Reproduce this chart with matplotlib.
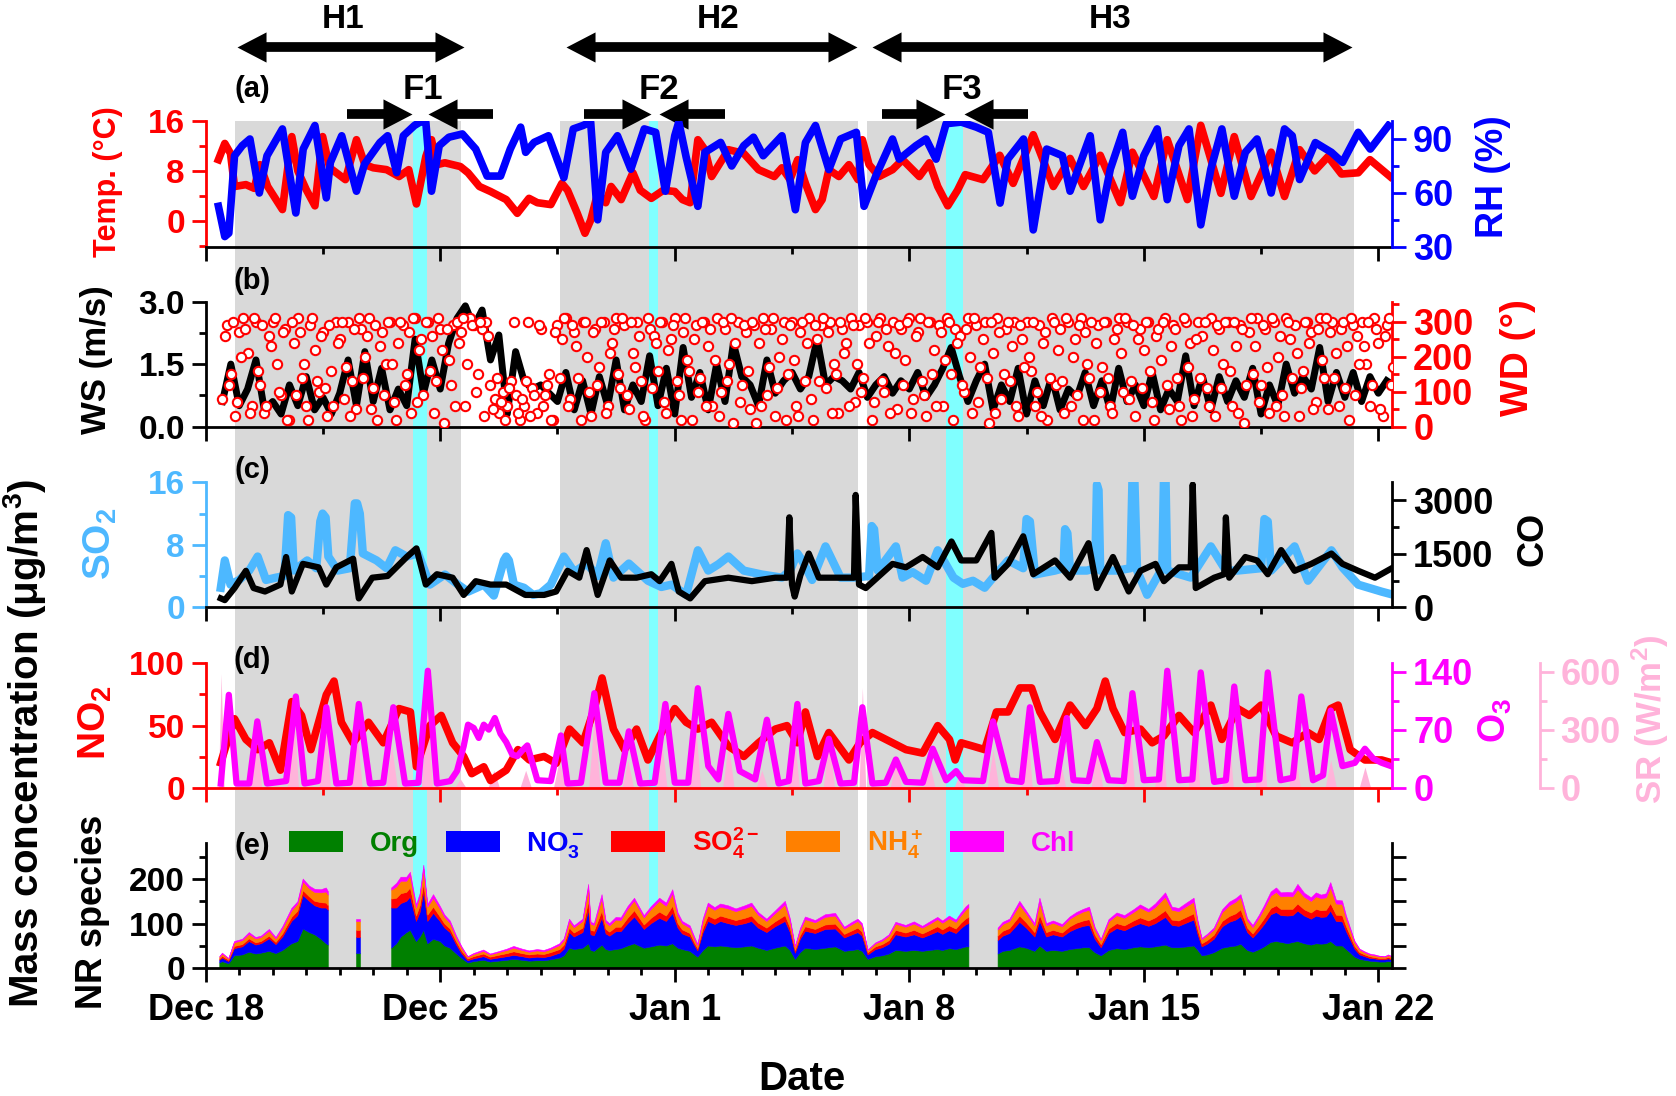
#!/usr/bin/env python3
"""Five-panel time series: meteorology, trace gases and NR species, Dec 18 - Jan 22."""

import numpy as np
import matplotlib
matplotlib.use("Agg")
import matplotlib.pyplot as plt
from matplotlib import transforms
from matplotlib.patches import Patch
from matplotlib.path import Path
from matplotlib.ticker import FormatStrFormatter

NA = np.nan

# x values are days since Dec 18 00:00
DATE_TICKS = [0, 7, 14, 21, 28, 35]
DATE_LABELS = ["Dec 18", "Dec 25", "Jan 1", "Jan 8", "Jan 15", "Jan 22"]

HAZE_SPANS = [(0.86, 7.62), (10.58, 19.47), (19.75, 34.27)]
FOG_SPANS = [(6.20, 6.62), (13.22, 13.51), (22.09, 22.59)]
HAZE_NAMES = ["H1", "H2", "H3"]
HAZE_ARROWS = [(0.93, 7.71), (10.76, 19.44), (19.88, 34.20)]
HAZE_NAME_X = [4.1, 15.3, 27.0]
FOG_NAMES = ["F1", "F2", "F3"]
FOG_NAME_X = [6.48, 13.52, 22.56]
FOG_ARROWS = [((4.22, 6.17), (8.57, 6.65)),
              ((11.29, 13.29), (15.49, 13.53)),
              ((20.19, 22.07), (24.55, 22.63))]

# ---- (a) temperature / RH
T_TEMP = [0.38, 0.57, 0.74, 0.86, 1.2, 1.45, 1.62, 1.85, 2.29, 2.57, 2.75, 3.0, 3.26, 3.49,
          3.7, 4.17, 4.5, 4.75, 5.0, 5.4, 5.77, 6.06, 6.29, 6.57, 6.74, 6.9, 7.14, 7.6, 7.83,
          8.17, 8.5, 8.97, 9.3, 9.65, 9.9, 10.3, 10.63, 10.8, 11.09, 11.32, 11.49, 11.7, 11.94,
          12.1, 12.4, 12.75, 12.97, 13.3, 13.66, 14.0, 14.23, 14.46, 14.69, 14.9, 15.1, 15.6,
          16.06, 16.5, 16.97, 17.2, 17.44, 17.67, 17.9, 18.2, 18.4, 18.6, 18.9, 19.2, 19.47,
          19.6, 19.8, 20.1, 20.5, 20.8, 21.3, 21.6, 21.85, 22.15, 22.44, 22.67, 23.2, 23.7,
          24.1, 24.7, 25.3, 25.8, 26.2, 26.7, 27.3, 27.66, 28.3, 28.7, 29.3, 29.7, 30.3, 30.7,
          31.2, 31.8, 32.2, 32.65, 33.1, 33.5, 33.9, 34.4, 34.75, 35.35]
TEMP = [9.8, 12.4, 10.8, 5.5, 5.8, 5.2, 9.0, 5.5, 1.8, 13.5, 8.0, 5.0, 2.4, 13.5, 8.5, 6.6,
        13.0, 9.0, 8.5, 8.2, 7.1, 8.2, 2.7, 10.3, 13.0, 9.0, 9.3, 8.7, 7.7, 5.5, 4.7, 3.4, 1.2,
        3.6, 2.9, 2.6, 6.0, 4.9, 1.2, -2.0, 0.1, 4.4, 2.9, 5.5, 3.4, 7.7, 4.9, 3.6, 4.9, 4.7,
        3.4, 2.9, 13.0, 11.4, 7.1, 11.4, 10.8, 8.2, 7.1, 8.5, 6.6, 9.8, 6.0, 1.8, 3.4, 8.2,
        7.1, 9.0, 6.6, 13.0, 9.0, 7.1, 8.2, 9.8, 7.1, 9.3, 5.5, 2.4, 4.9, 7.4, 6.6, 10.5, 6.0,
        13.8, 5.5, 10.0, 5.5, 10.5, 2.9, 11.0, 3.9, 13.0, 3.4, 15.3, 4.4, 13.5, 3.9, 11.0, 3.9,
        11.4, 8.0, 10.3, 7.5, 7.7, 9.8, 7.1]
T_RH = [0.38, 0.57, 0.69, 0.86, 1.09, 1.32, 1.6, 1.83, 2.29, 2.69, 2.91, 3.26, 3.6, 3.72, 4.06,
        4.5, 4.74, 5.2, 5.43, 5.7, 5.9, 6.23, 6.4, 6.57, 6.74, 6.97, 7.26, 7.66, 8.06, 8.4, 8.8,
        9.09, 9.4, 9.55, 9.8, 10.23, 10.69, 10.97, 11.26, 11.49, 11.7, 11.94, 12.29, 12.69,
        13.09, 13.43, 13.72, 14.0, 14.12, 14.34, 14.69, 14.9, 15.37, 15.7, 16.06, 16.35, 16.64,
        17.2, 17.6, 17.9, 18.2, 18.6, 18.95, 19.42, 19.65, 20.0, 20.5, 20.7, 21.2, 21.5, 21.8,
        22.1, 22.55, 23.0, 23.36, 23.71, 23.94, 24.41, 24.7, 25.1, 25.57, 25.8, 26.4, 26.7,
        27.0, 27.37, 27.66, 28.0, 28.4, 28.7, 29.05, 29.35, 29.7, 30.0, 30.33, 30.7, 31.03,
        31.38, 31.8, 32.2, 32.43, 32.65, 33.12, 33.6, 33.93, 34.4, 34.76, 35.3]
RH = [52.6, 35.8, 37.7, 80.7, 86.3, 90.0, 60.0, 80.7, 95.6, 48.9, 84.4, 97.5, 57.3, 76.9, 91.8,
      61.0, 76.0, 88.0, 91.8, 71.3, 91.8, 97.5, 99.4, 99.4, 61.0, 86.3, 91.0, 92.8, 84.4, 69.4,
      69.4, 84.4, 96.6, 82.6, 88.1, 91.8, 68.5, 95.6, 97.5, 99.4, 45.1, 82.6, 91.8, 73.2, 95.6,
      93.7, 61.0, 91.8, 99.4, 80.0, 52.6, 82.6, 88.1, 75.0, 86.3, 91.0, 80.7, 91.8, 50.7, 88.0,
      97.5, 73.0, 90.0, 93.7, 52.6, 69.4, 90.0, 78.8, 86.3, 90.0, 78.8, 98.5, 99.4, 96.6, 93.7,
      54.4, 78.8, 90.0, 39.5, 84.4, 80.7, 61.0, 91.8, 45.1, 73.2, 93.7, 58.2, 80.7, 95.6, 56.3,
      86.3, 95.6, 42.3, 73.2, 95.6, 58.2, 82.6, 90.0, 60.0, 95.6, 91.8, 67.5, 88.0, 82.6, 77.0,
      93.7, 84.4, 97.5]

# ---- (b) wind speed every 6 h, wind direction every 3 h (two offset readings)
WS_START, WS_STEP = 0.5, 0.25
WS = [0.6, 1.5,
      0.5, 0.9, 1.6, 0.4, 0.6, 0.3, 1.0, 0.5, 1.2, 0.4, 0.7, 0.3, 0.8, 1.6, 0.5, 1.8,
      0.6, 1.4, 0.4, 0.9, 0.5, 2.1, 0.8, 1.6, 0.9, 2.0, 2.6, 2.9, 2.4, 2.8, 1.6, 2.2,
      0.3, 1.8, 1.1, 0.9, 1.0, 0.8, 0.6, 1.3, 0.4, 1.1, 0.3, 1.2, 0.5, 1.6, 0.4, 1.0,
      0.6, 1.7, 0.5, 1.4, 0.3, 1.9, 0.7, 1.3, 0.4, 1.5, 0.6, 2.0, 1.2, 1.0, 0.5, 1.6,
      0.8, 1.1, 1.3, 0.9, 1.2, 2.1, 1.0, 1.2, 1.1, 0.9, 1.3, 0.7, 1.0, 1.2, 0.8, 1.1,
      0.9, 1.3, 0.7, 1.0, 1.4, 1.9, 1.2, 0.6, 1.1, 1.5, 0.4, 1.0, 0.6, 1.4, 0.3, 1.1,
      0.5, 1.2, 0.4, 0.9, 0.7, 1.3, 0.5, 1.1, 0.4, 1.4, 0.6, 1.0, 0.5, 1.3, 0.4, 0.9,
      0.6, 1.7, 0.5, 1.2, 0.4, 1.2, 0.6, 1.1, 0.7, 1.4, 0.3, 1.0, 0.5, 1.5, 0.8, 1.2,
      0.9, 1.9, 0.6, 1.3, 0.7, 1.3, 0.6, 1.2,
      0.8, 1.1]
WD_START, WD_STEP = 0.5, 0.125
WD = [80, 290, 150, 30, 270, 310, 210, 60, 300, 120, 40, 260, 300, 180, 90, 280,
      20, 240, 310, 140, 60, 290, 220, 100, 270, 30, 160, 300, 250, 80, 300, 130,
      50, 280, 200, 310, 110, 20, 270, 180, 300, 70, 240, 290, 150, 40, 310, 220,
      90, 300, 260, 130, 280, 10, 190, 290, 300, 270, 60, 310, 290, 150, 280, 300,
      120, 80, 40, 100, 60, 130, 90, 20, 60, 300, 110, 40, 280, 90, 150, 20,
      290, 250, 310, 80, 270, 140, 300, 200, 30, 280, 170, 300, 60, 240, 310, 110,
      290, 50, 210, 300, 130, 20, 280, 260, 160, 300, 40, 250, 310, 90, 270, 190,
      20, 290, 140, 300, 230, 60, 310, 100, 280, 180, 10, 300, 120, 270, 50, 290,
      240, 310, 90, 280, 30, 200, 300, 150, 300, 60, 270, 130, 310, 20, 250, 290,
      110, 300, 180, 40, 280, 240, 310, 70, 290, 140, 300, 20, 260, 310, 100, 230,
      300, 50, 280, 190, 310, 80, 270, 130, 30, 300, 220, 290, 60, 310, 150, 280,
      260, 100, 310, 40, 290, 170, 300, 10, 210, 310, 80, 280, 130, 300, 30, 250,
      300, 160, 60, 290, 240, 20, 310, 120, 280, 40, 300, 200, 90, 310, 270, 140,
      20, 290, 170, 300, 60, 250, 310, 100, 300, 130, 30, 280, 220, 300, 70, 260,
      190, 310, 50, 290, 140, 20, 300, 240, 80, 300, 260, 110, 310, 30, 280, 180,
      300, 60, 230, 290, 10, 270, 150, 310, 120, 280, 40, 300, 200, 90, 310, 250,
      290, 30, 160, 300, 270, 70, 310, 140, 50, 300, 210, 280, 110, 20, 290, 260,
      300, 180, 60, 310, 240, 30, 290, 120]
WD2_START = 0.5625
WD2 = [260, 120, 300, 70, 200, 280, 40, 310, 160, 290, 60, 230, 310, 100, 270, 20,
       300, 90, 270, 180, 20, 310, 130, 260, 110, 290, 60, 240, 300, 170, 30, 280,
       310, 140, 260, 50, 290, 230, 90, 300, 180, 20, 300, 120, 270, 310, 70, 250,
       300, 160, 40, 310, 220, 280, 120, 60, 240, 310, 180, 290, 100, 300, 30, 260,
       50, 140, 70, 20, 110, 300, 40, 80, 130, 30, 90, 290, 60, 120, 20, 270,
       140, 310, 60, 290, 230, 20, 300, 100, 270, 120, 300, 40, 210, 280, 150, 310,
       90, 300, 170, 260, 30, 310, 110, 240, 300, 70, 220, 290, 130, 20, 310, 160,
       250, 100, 300, 60, 280, 190, 30, 300, 130, 310, 240, 70, 290, 160, 300, 10,
       60, 280, 170, 310, 110, 250, 20, 290, 190, 30, 300, 240, 80, 290, 130, 310,
       270, 40, 150, 300, 210, 60, 290, 180, 100, 310, 240, 70, 300, 130, 280, 40,
       210, 290, 120, 300, 40, 260, 310, 90, 300, 150, 60, 270, 190, 300, 20, 240,
       120, 280, 200, 310, 70, 250, 140, 300, 40, 270, 150, 300, 230, 60, 290, 170,
       200, 300, 100, 30, 270, 140, 300, 220, 130, 310, 60, 250, 290, 20, 180, 300,
       240, 100, 300, 140, 40, 280, 210, 310, 80, 290, 250, 110, 300, 160, 20, 280,
       300, 120, 230, 280, 60, 310, 170, 30, 250, 140, 300, 60, 220, 290, 110, 300,
       160, 300, 40, 280, 120, 310, 230, 70, 290, 170, 310, 60, 260, 30, 300, 140,
       210, 110, 300, 240, 50, 280, 190, 310, 270, 140, 60, 300, 230, 310, 90, 180,
       230, 300, 120, 280, 50, 260, 310, 170]

# ---- (c) SO2 / CO
T_SO2 = [0.45, 0.57, 0.74, 1.0, 1.3, 1.55, 1.8, 2.1, 2.35, 2.46, 2.55, 2.63, 3.03, 3.3, 3.42,
         3.49, 3.58, 3.66, 3.94, 4.3, 4.45, 4.52, 4.6, 4.69, 5.1, 5.4, 5.66, 6.0, 6.34, 6.69,
         7.14, 7.5, 7.83, 8.3, 8.6, 8.9, 8.97, 9.05, 9.2, 9.5, 9.77, 10.0, 10.3, 10.69, 11.0,
         11.37, 11.7, 11.94, 12.17, 12.63, 13.2, 13.6, 13.9, 14.34, 14.69, 15.0, 15.3, 15.6,
         16.06, 16.6, 17.2, 17.44, 17.66, 17.8, 18.1, 18.5, 18.95, 19.35, 19.8, 19.88, 19.95,
         20.06, 20.6, 20.8, 21.1, 21.5, 21.85, 22.32, 22.6, 22.9, 23.25, 23.5, 23.95, 24.4,
         24.5, 24.6, 24.75, 25.35, 25.6, 25.65, 25.72, 25.8, 26.3, 26.55, 26.6, 26.65, 26.7,
         27.2, 27.6, 27.66, 27.72, 27.8, 28.1, 28.55, 28.6, 28.65, 28.7, 29.4, 30.0, 30.45,
         30.8, 31.5, 31.6, 31.7, 31.8, 32.5, 32.9, 33.6, 33.93, 34.4, 35.1, 35.45]
SO2 = [2.5, 6.0, 2.9, 3.5, 4.7, 6.5, 3.5, 3.8, 4.0, 11.8, 11.5, 4.7, 6.0, 5.0, 11.0, 12.0, 11.5,
       6.5, 4.7, 5.0, 13.3, 13.3, 12.0, 6.9, 6.0, 5.0, 7.3, 6.5, 6.9, 2.9, 4.2, 3.0, 2.0, 2.9,
       1.5, 6.0, 6.5, 6.0, 2.9, 2.5, 1.6, 1.8, 2.9, 6.5, 4.5, 5.6, 4.0, 8.2, 3.8, 5.6, 3.4, 2.6,
       2.9, 1.6, 7.3, 4.7, 5.5, 6.5, 4.7, 4.2, 3.8, 4.7, 6.9, 6.0, 3.5, 7.8, 3.8, 3.8, 4.0, 10.4,
       10.0, 4.7, 7.8, 3.8, 4.5, 3.4, 7.3, 3.8, 3.0, 3.4, 2.5, 3.8, 6.0, 5.0, 11.3, 11.0, 4.2,
       4.7, 5.0, 10.0, 9.5, 4.7, 4.7, 5.0, 15.7, 15.0, 4.7, 4.7, 5.0, 16.4, 16.4, 4.7, 1.6, 5.0,
       16.4, 16.4, 4.7, 3.8, 7.8, 4.7, 4.7, 5.0, 11.3, 11.0, 4.7, 7.8, 3.4, 7.3, 5.1, 2.9, 2.0,
       1.6]
T_CO = [0.45, 0.57, 0.86, 1.2, 1.43, 1.77, 2.23, 2.4, 2.57, 2.9, 3.37, 3.6, 3.9, 4.4, 4.57,
        4.97, 5.43, 6.0, 6.29, 6.57, 6.9, 7.37, 7.7, 8.06, 8.5, 8.97, 9.54, 10.1, 10.46, 10.8,
        11.15, 11.37, 11.7, 12.06, 12.4, 12.86, 13.3, 13.55, 13.9, 14.12, 14.46, 14.9, 15.6,
        16.3, 17.0, 17.35, 17.42, 17.5, 17.58, 17.75, 18.0, 18.3, 18.95, 19.35, 19.4, 19.5,
        19.7, 20.5, 20.9, 21.4, 21.85, 22.26, 22.55, 23.0, 23.45, 23.55, 23.95, 24.4, 24.7,
        25.35, 25.8, 26.35, 26.6, 27.08, 27.55, 27.9, 28.35, 28.6, 29.05, 29.4, 29.46, 29.55,
        30.1, 30.4, 30.45, 30.55, 31.03, 31.38, 31.7, 32.1, 32.5, 33.0, 33.6, 33.93, 34.4,
        34.9, 35.45]
CO = [250, 201, 539, 1022, 539, 442, 636, 1408, 442, 1216, 1119, 636, 1119, 1360, 249, 829,
      877, 1408, 1650, 636, 926, 829, 346, 732, 636, 636, 346, 346, 442, 1022, 829, 1602, 346,
      1312, 829, 829, 926, 732, 1216, 442, 249, 732, 829, 732, 829, 829, 2519, 636, 300, 900,
      1505, 829, 829, 829, 3146, 636, 539, 1216, 1119, 1408, 1119, 1843, 1312, 1312, 2084, 829,
      1216, 1988, 926, 1312, 829, 1795, 539, 1408, 442, 1022, 1216, 732, 1119, 1119, 3436, 539,
      829, 926, 2519, 829, 1408, 1312, 926, 1602, 1022, 1216, 1505, 1216, 1022, 829, 1119]

# ---- (d) NO2 / O3 / solar radiation
T_NO2 = [0.45, 0.57, 0.86, 1.2, 1.55, 1.9, 2.23, 2.57, 2.86, 3.14, 3.6, 3.83, 4.05, 4.4, 4.86,
         5.3, 5.77, 6.11, 6.29, 6.69, 7.03, 7.37, 7.7, 7.94, 8.3, 8.5, 8.97, 9.32, 9.66, 10.1,
         10.46, 10.86, 11.26, 11.6, 11.83, 12.17, 12.5, 12.86, 13.2, 13.55, 14.0, 14.34, 14.69,
         15.1, 15.6, 16.06, 16.5, 17.0, 17.35, 17.66, 17.9, 18.26, 18.6, 19.2, 19.53, 19.9,
         20.5, 20.9, 21.4, 21.85, 22.2, 22.37, 22.55, 22.9, 23.25, 23.6, 23.95, 24.3, 24.65,
         24.9, 25.35, 25.8, 26.26, 26.6, 26.85, 27.08, 27.43, 27.9, 28.25, 28.6, 29.05, 29.5,
         30.0, 30.33, 30.8, 31.15, 31.5, 31.95, 32.43, 32.9, 33.23, 33.58, 33.8, 34.16, 34.6,
         35.1, 35.45]
NO2 = [20, 30.6, 55.4, 38.8, 30.6, 36.1, 14.1, 69.2, 58.1, 30.6, 74.7, 85.7, 52.6, 36.1, 52.6,
       36.1, 63.6, 60.9, 16.8, 49.9, 58.1, 36.1, 25.1, 11.3, 16.8, 5.8, 14.1, 30.6, 22.3, 25.1,
       19.6, 47.1, 36.1, 63.6, 88.2, 47.1, 30.6, 47.1, 22.3, 41.6, 63.6, 52.6, 47.1, 52.6, 33.4,
       25.1, 36.1, 47.1, 49.9, 36.1, 60.9, 25.1, 44.3, 22.3, 36.1, 44.3, 36.1, 30.6, 27.8, 49.9,
       38.8, 22.3, 36.1, 33.4, 30.6, 60.9, 60.9, 80.2, 80.2, 60.9, 38.8, 66.4, 49.9, 63.6, 85.7,
       63.6, 44.3, 47.1, 36.1, 41.6, 58.1, 44.3, 66.4, 38.8, 63.6, 58.1, 66.4, 41.6, 36.1, 44.3,
       38.8, 63.6, 66.4, 30.6, 22.3, 22.3, 19.6]
T_O3 = [0.45, 0.69, 0.92, 1.3, 1.54, 1.83, 2.4, 2.69, 2.95, 3.35, 3.6, 3.9, 4.3, 4.57, 4.9,
        5.3, 5.6, 5.95, 6.35, 6.63, 6.9, 7.3, 7.5, 7.7, 7.83, 8.0, 8.15, 8.3, 8.45, 8.63, 8.8,
        8.97, 9.15, 9.3, 9.45, 9.6, 9.75, 9.9, 10.3, 10.6, 10.8, 11.2, 11.6, 11.94, 12.35,
        12.63, 12.97, 13.4, 13.72, 14.0, 14.4, 14.69, 15.0, 15.3, 15.6, 15.94, 16.4, 16.75,
        17.1, 17.4, 17.66, 17.9, 18.3, 18.6, 18.95, 19.35, 19.6, 19.9, 20.3, 20.6, 20.9, 21.4,
        21.7, 22.1, 22.4, 22.6, 23.2, 23.5, 23.95, 24.35, 24.6, 24.9, 25.4, 25.7, 25.9, 26.35,
        26.6, 26.95, 27.4, 27.66, 28.0, 28.45, 28.7, 29.05, 29.45, 29.7, 30.1, 30.45, 30.7,
        31.03, 31.45, 31.7, 32.08, 32.45, 32.7, 33.05, 33.35, 33.58, 33.93, 34.3, 34.6, 34.85,
        35.1, 35.45]
O3 = [5, 112, 5, 5, 80, 5, 8, 110, 5, 8, 97, 5, 6, 101, 5, 6, 97, 5, 6, 141, 5, 8, 20, 50, 76,
      72, 60, 76, 70, 84, 65, 55, 40, 38, 45, 51, 30, 9, 8, 63, 5, 6, 114, 6, 6, 68, 5, 6, 101,
      6, 6, 120, 26, 10, 89, 20, 10, 82, 5, 8, 101, 5, 8, 59, 5, 6, 97, 5, 6, 34, 7, 6, 47, 9,
      20, 9, 8, 80, 9, 7, 97, 7, 8, 84, 9, 8, 55, 9, 8, 114, 9, 10, 141, 9, 10, 139, 7, 9, 122,
      9, 10, 139, 9, 12, 110, 9, 15, 93, 26, 30, 47, 35, 30, 25]
T_SR = [0.38, 0.46, 0.55, 1.33, 1.5, 1.67, 2.43, 2.6, 2.77, 3.38, 3.55, 3.72, 4.33, 4.5, 4.67,
        5.38, 5.55, 5.72, 6.43, 6.6, 6.77, 7.43, 7.6, 7.77, 8.43, 8.6, 8.77, 9.38, 9.55, 9.72,
        10.38, 10.55, 10.72, 11.43, 11.6, 11.77, 12.43, 12.6, 12.77, 13.43, 13.6, 13.77, 14.43,
        14.6, 14.77, 15.43, 15.6, 15.77, 16.43, 16.6, 16.77, 17.38, 17.55, 17.72, 18.43, 18.6,
        18.77, 19.5, 19.6, 19.7, 20.43, 20.6, 20.77, 21.43, 21.6, 21.77, 22.33, 22.5, 22.67,
        23.33, 23.5, 23.67, 24.33, 24.5, 24.67, 25.33, 25.5, 25.67, 26.43, 26.6, 26.77, 27.38,
        27.55, 27.72, 28.33, 28.5, 28.67, 29.33, 29.5, 29.67, 30.33, 30.5, 30.67, 31.33, 31.5,
        31.67, 32.33, 32.5, 32.67, 33.41, 33.58, 33.75, 34.43, 34.6, 34.77]
SR = [0, 590, 0, 0, 322, 0, 0, 465, 0, 0, 411, 0, 0, 322, 0, 0, 214, 0, 0, 447, 0, 0, 45, 0,
      0, 90, 0, 0, 90, 0, 0, 143, 0, 0, 375, 0, 0, 143, 0, 0, 250, 0, 0, 375, 0, 0, 232, 0,
      0, 90, 0, 0, 300, 0, 0, 250, 0, 0, 518, 0, 0, 143, 0, 0, 125, 0, 0, 71, 0, 0, 197, 0,
      0, 375, 0, 0, 143, 0, 0, 214, 0, 0, 393, 0, 0, 411, 0, 0, 447, 0, 0, 375, 0, 0, 393, 0,
      0, 214, 0, 0, 143, 0, 0, 107, 0]

# ---- (e) NR species (NaN = no data)
T_E = [0.42, 0.5, 0.69, 0.86, 1.1, 1.3, 1.5, 1.66, 1.9, 2.1,
       2.3, 2.57, 2.75, 2.91, 3.1, 3.26, 3.45, 3.6, 3.66, 3.67,
       4.5, 4.62, 4.63, 5.55, 5.7, 5.83, 6.0, 6.11, 6.29, 6.4,
       6.51, 6.63, 6.8, 7.0, 7.14, 7.3, 7.49, 7.65, 7.83, 8.0,
       8.3, 8.5, 8.74, 9.0, 9.2, 9.45, 9.66, 9.9, 10.1, 10.3,
       10.57, 10.7, 10.86, 11.0, 11.26, 11.43, 11.5, 11.6, 11.83, 11.95,
       12.06, 12.25, 12.4, 12.6, 12.8, 13.0, 13.09, 13.3, 13.55, 13.75,
       13.94, 14.1, 14.23, 14.46, 14.6, 14.69, 14.85, 15.0, 15.2, 15.37,
       15.6, 15.83, 16.1, 16.3, 16.5, 16.75, 17.0, 17.3, 17.45, 17.6,
       17.75, 17.9, 18.2, 18.5, 18.8, 19.07, 19.3, 19.47, 19.6, 19.77,
       20.0, 20.2, 20.4, 20.6, 20.9, 21.15, 21.4, 21.6, 21.85, 22.0,
       22.2, 22.4, 22.55, 22.7, 22.78, 22.79, 23.65, 23.8, 24.0, 24.3,
       24.5, 24.75, 24.9, 25.1, 25.3, 25.57, 25.8, 26.0, 26.2, 26.38,
       26.55, 26.73, 26.96, 27.2, 27.43, 27.7, 27.9, 28.15, 28.35, 28.65,
       28.85, 29.05, 29.3, 29.5, 29.62, 29.74, 29.9, 30.1, 30.35, 30.56,
       30.75, 30.9, 31.1, 31.26, 31.45, 31.6, 31.8, 31.96, 32.1, 32.3,
       32.45, 32.6, 32.8, 33.0, 33.15, 33.3, 33.45, 33.58, 33.75, 33.93,
       34.05, 34.16, 34.3, 34.45, 34.6, 34.75, 34.9, 35.05, 35.2, 35.3,
       35.4]
ORG = [12, 15, 10, 28, 30, 36, 32, 34, 38, 33,
       40, 55, 60, 88, 80, 75, 65, 55, 52, NA,
       35, 35, NA, 45, 55, 70, 80, 85, 60, 70,
       85, 55, 65, 60, 50, 45, 32, 22, 12, 15,
       18, 14, 16, 18, 20, 18, 16, 17, 17, 19,
       23, 28, 45, 42, 45, 55, 40, 38, 52, 42,
       40, 42, 44, 50, 55, 48, 45, 48, 52, 50,
       55, 45, 42, 38, 30, 25, 40, 50, 48, 50,
       48, 46, 48, 50, 45, 40, 45, 50, 40, 20,
       35, 45, 42, 45, 48, 38, 40, 42, 38, 20,
       26, 28, 32, 40, 38, 40, 38, 40, 42, 40,
       44, 42, 45, 48, 48, NA, 32, 38, 40, 48,
       45, 38, 50, 38, 40, 38, 42, 44, 46, 46,
       35, 28, 40, 44, 42, 46, 48, 46, 48, 52,
       46, 46, 48, 50, 40, 28, 30, 35, 45, 48,
       50, 54, 40, 36, 42, 48, 58, 60, 58, 55,
       58, 60, 55, 52, 55, 54, 55, 60, 50, 50,
       42, 35, 25, 20, 18, 16, 15, 14, 14, 15,
       14]
NO3 = [6, 8, 5, 16, 18, 24, 20, 21, 28, 20,
       30, 50, 58, 75, 70, 65, 70, 80, 78, NA,
       35, 35, NA, 90, 80, 75, 70, 75, 45, 55,
       85, 50, 58, 45, 40, 35, 20, 10, 5, 6,
       8, 6, 7, 8, 9, 8, 7, 8, 7, 8,
       11, 15, 35, 28, 35, 75, 35, 35, 60, 35,
       32, 40, 38, 50, 60, 48, 42, 52, 60, 55,
       68, 45, 35, 32, 20, 14, 40, 55, 50, 55,
       52, 50, 52, 55, 45, 40, 48, 55, 40, 14,
       30, 38, 36, 42, 40, 30, 35, 38, 34, 10,
       16, 18, 22, 35, 32, 35, 30, 34, 40, 36,
       40, 36, 44, 50, 52, NA, 30, 34, 38, 55,
       45, 32, 55, 32, 35, 32, 40, 45, 48, 50,
       30, 18, 38, 45, 42, 48, 52, 48, 52, 62,
       50, 48, 54, 58, 35, 20, 24, 30, 48, 55,
       58, 62, 40, 32, 42, 50, 62, 65, 60, 62,
       60, 68, 62, 58, 62, 60, 60, 68, 55, 54,
       40, 30, 18, 10, 8, 6, 6, 5, 5, 6,
       5]
SO4 = [3, 4, 3, 5, 5, 6, 5, 5, 6, 5,
       7, 9, 10, 11, 10, 10, 12, 11, 10, NA,
       15, 15, NA, 20, 22, 22, 20, 20, 12, 15,
       20, 14, 14, 10, 9, 8, 7, 6, 4, 5,
       6, 5, 6, 7, 8, 7, 7, 7, 7, 8,
       8, 9, 10, 9, 10, 20, 10, 10, 16, 10,
       9, 10, 10, 12, 14, 11, 10, 12, 14, 12,
       16, 10, 9, 8, 6, 5, 10, 12, 12, 12,
       12, 11, 12, 12, 11, 10, 11, 13, 10, 6,
       8, 10, 9, 10, 11, 8, 9, 10, 9, 5,
       6, 7, 8, 10, 9, 10, 9, 10, 11, 10,
       11, 10, 12, 13, 14, NA, 10, 11, 11, 14,
       12, 10, 14, 10, 10, 9, 11, 12, 12, 13,
       9, 7, 10, 11, 11, 12, 13, 12, 13, 15,
       12, 12, 13, 14, 10, 7, 8, 9, 12, 13,
       14, 15, 10, 9, 11, 13, 14, 15, 14, 15,
       14, 16, 14, 14, 15, 15, 15, 17, 14, 14,
       11, 9, 6, 5, 4, 4, 3, 3, 3, 3,
       3]
NH4 = [4, 5, 3, 8, 9, 10, 9, 9, 11, 8,
       12, 15, 16, 20, 18, 20, 22, 25, 24, NA,
       20, 20, NA, 20, 25, 28, 25, 27, 18, 20,
       32, 18, 20, 18, 15, 13, 9, 7, 4, 5,
       6, 5, 6, 7, 8, 7, 6, 7, 6, 7,
       9, 10, 15, 12, 15, 30, 14, 13, 28, 15,
       14, 16, 15, 20, 22, 18, 16, 20, 24, 22,
       28, 18, 14, 12, 9, 7, 16, 22, 20, 20,
       21, 20, 21, 22, 18, 15, 18, 24, 16, 7,
       12, 16, 15, 17, 18, 12, 14, 15, 14, 5,
       7, 8, 10, 14, 13, 14, 13, 14, 16, 15,
       16, 15, 17, 20, 22, NA, 14, 15, 16, 25,
       20, 15, 28, 15, 16, 14, 17, 18, 20, 21,
       13, 9, 16, 18, 17, 19, 22, 20, 23, 30,
       22, 21, 24, 26, 16, 9, 11, 12, 20, 24,
       26, 27, 16, 14, 18, 22, 28, 30, 28, 29,
       28, 32, 28, 26, 28, 27, 28, 35, 25, 25,
       18, 14, 9, 6, 5, 4, 4, 4, 3, 4,
       4]
CHL = [1, 2, 1, 3, 3, 4, 3, 3, 4, 3,
       4, 5, 5, 6, 6, 7, 7, 9, 8, NA,
       6, 6, NA, 5, 8, 9, 9, 8, 7, 7,
       9, 6, 8, 6, 5, 5, 4, 3, 1, 2,
       3, 2, 2, 3, 4, 3, 3, 3, 3, 3,
       4, 4, 5, 4, 5, 8, 4, 4, 9, 5,
       5, 6, 6, 6, 6, 5, 5, 6, 7, 7,
       9, 6, 5, 5, 4, 3, 5, 7, 6, 7,
       7, 6, 7, 7, 6, 5, 6, 8, 5, 2,
       4, 6, 5, 6, 6, 4, 5, 5, 5, 1,
       2, 3, 3, 4, 4, 5, 4, 5, 5, 5,
       6, 5, 6, 7, 7, NA, 4, 5, 5, 8,
       6, 5, 10, 5, 5, 5, 5, 6, 6, 7,
       4, 3, 5, 6, 6, 6, 7, 6, 8, 10,
       7, 7, 8, 9, 5, 3, 3, 4, 6, 8,
       8, 7, 5, 5, 6, 7, 9, 10, 9, 9,
       9, 12, 9, 8, 9, 8, 9, 12, 8, 8,
       6, 4, 3, 2, 2, 2, 2, 1, 1, 2,
       1]
SPECIES = ["Org", "NO$_3^-$", "SO$_4^{2-}$", "NH$_4^+$", "Chl"]
SPECIES_COLORS = ["#008000", "#0000FF", "#FF0000", "#FF8000", "#FF00FF"]

SO2_C = "#4DB8FF"
SR_C = "#FFB3DA"
GRAY_C = "#D9D9D9"
FOG_C = "#80FFFF"

plt.rcParams.update({
    "font.family": "Liberation Sans",
    "font.weight": "bold",
    "mathtext.fontset": "custom",
    "mathtext.rm": "Liberation Sans:bold",
    "mathtext.it": "Liberation Sans:bold",
    "mathtext.bf": "Liberation Sans:bold",
    "mathtext.default": "rm",
    "axes.linewidth": 2.0,
    "xtick.direction": "out", "ytick.direction": "out",
    "xtick.major.size": 10, "xtick.minor.size": 5,
    "ytick.major.size": 10, "ytick.minor.size": 5,
    "xtick.major.width": 2, "xtick.minor.width": 2,
    "ytick.major.width": 2, "ytick.minor.width": 2,
    "xtick.major.pad": 8, "ytick.major.pad": 5,
})

W, H = 1676, 1096
X0, X1 = 205.7, 1392.4        # plot area left/right in pixels
XLIM = (0, 35.42)


def fx(px):
    return px / W


def fy(py):
    return 1 - py / H


def day_px(d):
    return X0 + (d - XLIM[0]) * (X1 - X0) / (XLIM[1] - XLIM[0])


fig = plt.figure(figsize=(W / 100, H / 100), dpi=100)


def panel(top, bottom):
    return fig.add_axes([fx(X0), fy(bottom), (X1 - X0) / W, (bottom - top) / H])


def frame(ax, left=None, right=None, bottom="k"):
    ax.patch.set_visible(False)
    ax.spines["top"].set_visible(False)
    for side, c in (("left", left), ("right", right), ("bottom", bottom)):
        if c is None:
            ax.spines[side].set_visible(False)
        else:
            ax.spines[side].set_color(c)


def date_axis(ax, minor, color="k", labels=False):
    ax.set_xlim(XLIM)
    ax.set_xticks(DATE_TICKS)
    ax.set_xticks(minor, minor=True)
    ax.tick_params(axis="x", which="both", colors=color, labelbottom=labels, labelsize=26)
    if labels:
        ax.set_xticklabels(DATE_LABELS)


def value_axis(ax, lim, major, minor, color, size=24):
    ax.set_ylim(lim)
    ax.set_yticks(major)
    ax.set_yticks(minor, minor=True)
    ax.tick_params(axis="y", which="both", colors=color, labelsize=size)


MINOR_HALF = [3.5, 10.5, 17.5, 24.5, 31.5]
MINOR_DAY = [d for d in range(1, 35) if d % 7]

# background shading across all panels
bg = panel(121, 968.3)
bg.set_zorder(-1)
bg.set_xlim(XLIM)
bg.set_ylim(0, 1)
bg.axis("off")
for a, b in HAZE_SPANS:
    bg.axvspan(a, b, color=GRAY_C, lw=0)
for a, b in FOG_SPANS:
    bg.axvspan(a, b, color=FOG_C, lw=0)

# (a)
ax_a = panel(121, 247)
ax_a.plot(T_TEMP, TEMP, color="red", lw=5.5)
frame(ax_a, left="red")
value_axis(ax_a, (-4.2, 16), [0, 8, 16], [-4, 4, 12], "red")
ax_a2 = ax_a.twinx()
ax_a2.plot(T_RH, RH, color="blue", lw=5.5)
frame(ax_a2, right="blue", bottom=None)
value_axis(ax_a2, (30, 100), [30, 60, 90], [45, 75], "blue", size=26)
date_axis(ax_a, MINOR_HALF)

# (b)
ax_b = panel(301.7, 426.5)
t_ws = WS_START + WS_STEP * np.arange(len(WS))
ax_b.plot(t_ws, WS, color="black", lw=5)
frame(ax_b, left="black")
value_axis(ax_b, (0, 3.0), [0, 1.5, 3.0], [0.75, 2.25], "black")
ax_b.yaxis.set_major_formatter(FormatStrFormatter("%.1f"))
ax_b2 = ax_b.twinx()
for start, vals in ((WD_START, WD), (WD2_START, WD2)):
    t_wd = start + WD_STEP * np.arange(len(vals))
    ax_b2.scatter(t_wd, vals, s=45, marker="o", facecolors="white", edgecolors="red",
                  linewidths=1.5, zorder=3)
frame(ax_b2, right="red", bottom=None)
value_axis(ax_b2, (0, 357), [0, 100, 200, 300], [50, 150, 250, 350], "red", size=26)
date_axis(ax_b, MINOR_HALF)

# (c)
ax_c = panel(482.3, 607.3)
ax_c.plot(T_SO2, SO2, color=SO2_C, lw=6)
frame(ax_c, left=SO2_C)
value_axis(ax_c, (0, 16), [0, 8, 16], [4, 12], SO2_C)
ax_c2 = ax_c.twinx()
ax_c2.plot(T_CO, CO, color="black", lw=4.5)
frame(ax_c2, right="black", bottom=None)
value_axis(ax_c2, (0, 3500), [0, 1500, 3000], [750, 2250], "black", size=26)
date_axis(ax_c, MINOR_HALF)

# (d)
ax_d = panel(663.3, 787.7)
ax_d3 = ax_d.twinx()
ax_d2 = ax_d.twinx()
ax_d3.set_zorder(1)
ax_d.set_zorder(2)
ax_d2.set_zorder(3)
ax_d3.fill_between(T_SR, 0, SR, color=SR_C, lw=0)
ax_d.plot(T_NO2, NO2, color="red", lw=5.5)
ax_d2.plot(T_O3, O3, color="#FF00FF", lw=4.5)
frame(ax_d, left="red", bottom="red")
value_axis(ax_d, (0, 100), [0, 50, 100], [25, 75], "red")
frame(ax_d2, right="#FF00FF", bottom=None)
value_axis(ax_d2, (0, 150), [0, 70, 140], [35, 105], "#FF00FF", size=26)
frame(ax_d3, right=SR_C, bottom=None)
ax_d3.spines["right"].set_position(("axes", 1 + (1539.7 - X1) / (X1 - X0)))
value_axis(ax_d3, (0, 643), [0, 300, 600], [150, 450], SR_C, size=26)
date_axis(ax_d, MINOR_HALF, color="red")

# (e)
ax_e = panel(843.3, 968.3)
base = np.zeros(len(T_E))
for arr, c in zip([ORG, NO3, SO4, NH4, CHL], SPECIES_COLORS):
    top = base + np.array(arr, dtype=float)
    ax_e.fill_between(T_E, base, top, color=c, lw=0.4)
    base = top
frame(ax_e, left="black")
value_axis(ax_e, (0, 280), [0, 100, 200], [50, 150, 250], "black")
ax_e2 = ax_e.twinx()
frame(ax_e2, right="black", bottom=None)
value_axis(ax_e2, (0, 280), [0, 50, 100, 150, 200, 250], [], "black")
ax_e2.tick_params(axis="y", labelright=False)
date_axis(ax_e, MINOR_DAY, labels=True)
handles = [Patch(facecolor=c, edgecolor="none") for c in SPECIES_COLORS]
ax_e.legend(handles, SPECIES, loc="center left", bbox_to_anchor=(fx(289), fy(843)),
            bbox_transform=fig.transFigure, ncol=5, frameon=False, fontsize=20,
            handlelength=1.94, handleheight=0.8, handletextpad=0.97, columnspacing=0.96,
            borderaxespad=0, borderpad=0, labelcolor=SPECIES_COLORS)

# haze / fog period arrows above panel (a)
blend = transforms.blended_transform_factory(ax_a.transData, fig.transFigure)
HEAD_R = Path([(0, 0), (-1, -0.52), (-1, 0.52), (0, 0)],
              [Path.MOVETO, Path.LINETO, Path.LINETO, Path.CLOSEPOLY])
HEAD_L = Path([(0, 0), (1, -0.52), (1, 0.52), (0, 0)],
              [Path.MOVETO, Path.LINETO, Path.LINETO, Path.CLOSEPOLY])


def head(x, ypx, path):
    ax_a.plot([x], [fy(ypx)], transform=blend, marker=path, ms=41.8, mew=0,
              color="black", clip_on=False)


def shaft(x0, x1, ypx):
    ax_a.plot([x0, x1], [fy(ypx), fy(ypx)], transform=blend, color="black", lw=7,
              solid_capstyle="butt", clip_on=False)


for (a, b), name, xn in zip(HAZE_ARROWS, HAZE_NAMES, HAZE_NAME_X):
    shaft(a + 0.5, b - 0.5, 46.7)
    head(a, 46.7, HEAD_L)
    head(b, 46.7, HEAD_R)
    fig.text(fx(day_px(xn)), fy(19), name, ha="center", va="center", fontsize=24)

for ((l0, lt), (r0, rt)), name, xn in zip(FOG_ARROWS, FOG_NAMES, FOG_NAME_X):
    shaft(l0, lt - 0.5, 114)
    head(lt, 114, HEAD_R)
    shaft(rt + 0.5, r0, 114)
    head(rt, 114, HEAD_L)
    fig.text(fx(day_px(xn)), fy(89), name, ha="center", va="center", fontsize=25)
ax_a.set_xlim(XLIM)

# panel letters
for letter, ypx in zip(["(a)", "(b)", "(c)", "(d)", "(e)"], [89, 281, 470, 660, 846]):
    fig.text(fx(252), fy(ypx), letter, ha="center", va="center", fontsize=21)

# axis titles
LABELS = [
    ("Temp. (°C)", 108, 182, "red", 22),
    ("RH (%)", 1493, 177, "blue", 27),
    ("WS (m/s)", 96, 360, "black", 25),
    ("WD (°)", 1518, 358, "red", 28),
    ("SO$_2$", 100, 544, SO2_C, 28),
    ("CO", 1533, 539, "black", 26),
    ("NO$_2$", 95, 723, "red", 28),
    ("O$_3$", 1495, 720, "#FF00FF", 27),
    ("SR (W/m$^2$)", 1650, 719, SR_C, 25),
    ("NR species", 93, 912, "black", 26),
    ("Mass concentration (μg/m$^3$)", 25, 743, "black", 29),
]
for text, xp, yp, c, fs in LABELS:
    fig.text(fx(xp), fy(yp), text, rotation=90, ha="center", va="center", color=c,
             fontsize=fs)
fig.text(fx(802), fy(1079), "Date", ha="center", va="center", fontsize=29)

fig.savefig("out.png", dpi=100)
